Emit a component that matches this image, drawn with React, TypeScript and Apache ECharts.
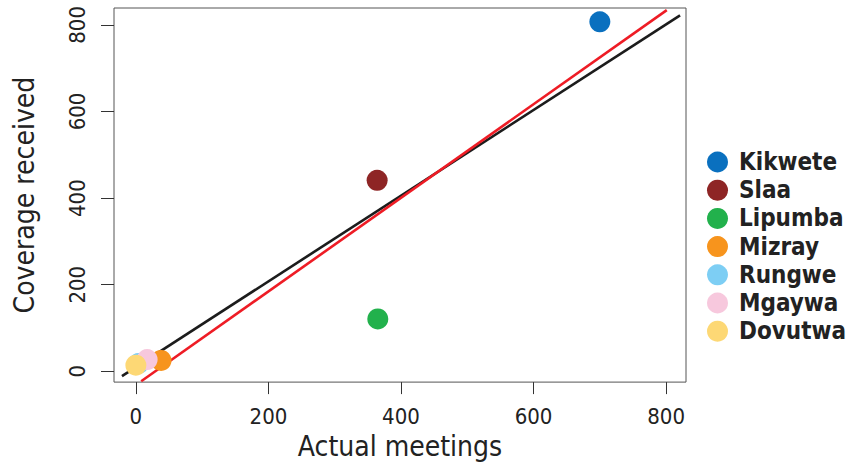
import React, { useEffect, useRef } from "react";
import * as echarts from "echarts";

const candidates = ["Kikwete", "Slaa", "Lipumba", "Mizray", "Rungwe", "Mgaywa", "Dovutwa"];
const actualMeetings = [700, 364, 365, 38, 4, 17, 0];
const coverageReceived = [807, 441, 121, 25, 18, 27, 14];
const colors = ["#0a70bf", "#8e2525", "#22b14c", "#f7941d", "#7dcef4", "#f7c8dd", "#fdd875"];

const blackLineX = [-21, 821];
const blackLineY = [-11, 822];
const redLineX = [8, 801];
const redLineY = [-23, 834];

const xTicks = [0, 200, 400, 600, 800];
const yTicks = [0, 200, 400, 600, 800];

export default function App() {
  const ref = useRef<HTMLDivElement>(null);
  useEffect(() => {
    if (!ref.current) return;
    const chart = echarts.init(ref.current, null, { renderer: "svg" });
    const narrow = "'DejaVu Sans Condensed', 'Liberation Sans Narrow', sans-serif";
    const scatterSeries = candidates.map((name, i) => ({
      name,
      type: "scatter",
      symbol: "circle",
      symbolSize: 21,
      itemStyle: { color: colors[i], opacity: 1 },
      data: [[actualMeetings[i], coverageReceived[i]]],
      z: 3,
    }));
    const option = {
      animation: false,
      backgroundColor: "#ffffff",
      grid: {
        left: 114,
        right: 168,
        top: 8,
        bottom: 79,
        show: true,
        borderColor: "#555555",
        borderWidth: 1,
        backgroundColor: "transparent",
      },
      legend: {
        orient: "vertical",
        left: 702,
        top: 145,
        data: candidates,
        icon: "circle",
        itemWidth: 21,
        itemHeight: 21,
        itemGap: 4.2,
        textStyle: {
          fontFamily: "'DejaVu Sans Condensed', 'Liberation Sans', sans-serif",
          fontWeight: "bold",
          fontSize: 24,
          color: "#222222",
          lineHeight: 22,
          padding: [0, 0, 0, 6],
        },
      },
      xAxis: {
        type: "value",
        min: -33,
        max: 830,
        interval: 200,
        name: "Actual meetings",
        nameLocation: "middle",
        nameGap: 40,
        nameTextStyle: { fontFamily: narrow, fontSize: 28, color: "#222222" },
        axisLine: { show: false, onZero: false },
        axisTick: { show: true, length: 12, lineStyle: { color: "#333333" }, customValues: xTicks },
        splitLine: { show: false },
        axisLabel: {
          fontFamily: narrow,
          fontSize: 22,
          color: "#222222",
          margin: 23,
          customValues: xTicks,
        },
      },
      yAxis: {
        type: "value",
        min: -25,
        max: 839,
        interval: 200,
        name: "Coverage received",
        nameLocation: "middle",
        nameGap: 76,
        nameTextStyle: { fontFamily: narrow, fontSize: 28, color: "#222222" },
        axisLine: { show: false, onZero: false },
        axisTick: { show: true, length: 13, lineStyle: { color: "#333333" }, customValues: yTicks },
        splitLine: { show: false },
        axisLabel: {
          fontFamily: narrow,
          fontSize: 22,
          color: "#222222",
          rotate: 90,
          margin: 26,
          customValues: yTicks,
        },
      },
      series: [
        {
          type: "line",
          name: "fit",
          data: blackLineX.map((x, i) => [x, blackLineY[i]]),
          symbol: "none",
          lineStyle: { color: "#1c1c1c", width: 2.6 },
          z: 2,
        },
        {
          type: "line",
          name: "identity",
          data: redLineX.map((x, i) => [x, redLineY[i]]),
          symbol: "none",
          lineStyle: { color: "#ee1c25", width: 2.6 },
          z: 2,
        },
        ...scatterSeries,
      ],
    };
    chart.setOption(option as any);
    return () => chart.dispose();
  }, []);
  return (
    <div
      ref={ref}
      style={{ position: "absolute", left: 0, top: 0, width: 854, height: 465 }}
    />
  );
}
